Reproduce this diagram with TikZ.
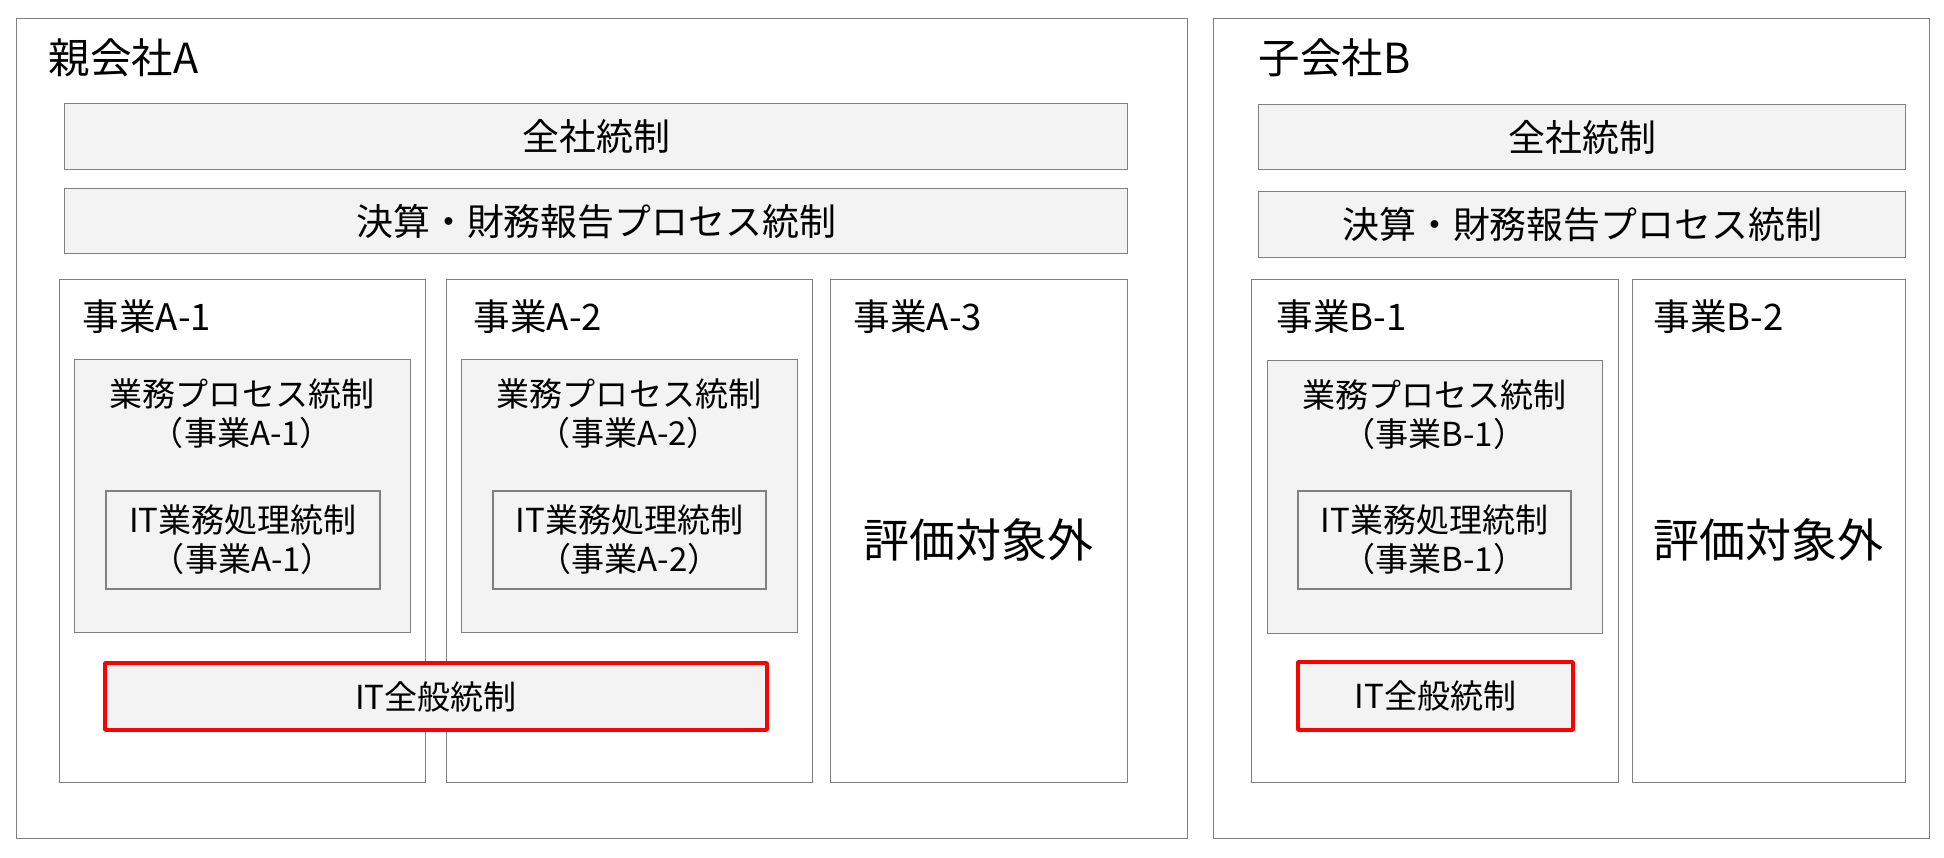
\documentclass[tikz,border=0pt]{standalone}
\usepackage{fontspec}
\setmainfont{Noto Sans CJK JP}
\usepackage{tikz}
\definecolor{linegray}{RGB}{128,128,128}
\definecolor{boxgray}{RGB}{243,243,243}
\definecolor{itred}{RGB}{255,0,0}
\usetikzlibrary{positioning}
\tikzstyle{company} = [rectangle, anchor=north west, draw=linegray, line width=0.4pt, inner sep=0pt]
\tikzstyle{control} = [rectangle, anchor=north west, draw=linegray, fill=boxgray, line width=0.4pt, inner sep=0pt, font=\fontsize{10.5pt}{12pt}\selectfont]
\tikzstyle{business} = [rectangle, anchor=north west, draw=linegray, line width=0.4pt, inner sep=0pt, minimum height=5.03cm]
\tikzstyle{process} = [rectangle, anchor=north west, draw=linegray, fill=boxgray, line width=0.4pt, inner sep=0pt, minimum height=2.73cm]
\tikzstyle{itapp} = [rectangle, draw=linegray, fill=boxgray, line width=0.4pt, inner sep=0pt, align=center, minimum height=0.98cm, font=\fontsize{9.4pt}{11.1pt}\selectfont]
\tikzstyle{itgc} = [rectangle, draw=itred, fill=boxgray, line width=1pt, line join=round, inner sep=0pt, font=\fontsize{9.4pt}{11.1pt}\selectfont]
\tikzstyle{title} = [anchor=west, inner sep=0pt, font=\fontsize{11.8pt}{14pt}\selectfont]
\tikzstyle{unit} = [anchor=west, inner sep=0pt, font=\fontsize{10.4pt}{12pt}\selectfont]
\tikzstyle{proctext} = [align=center, inner sep=0pt, font=\fontsize{9.4pt}{11.1pt}\selectfont]
\tikzstyle{outside} = [inner sep=0pt, font=\fontsize{13.1pt}{15pt}\selectfont]

\begin{document}
\begin{tikzpicture}[x=1cm, y=-1cm]
        \useasboundingbox (0,0) rectangle (19.44,8.58);

        % 親会社A
        \node (compA) [company, minimum width=11.71cm, minimum height=8.20cm] at (0.16,0.18) {};
        \node (compAname) [title] at (0.48,0.58) {親会社A};
        \node (entA) [control, minimum width=10.63cm, minimum height=0.66cm] at (0.64,1.03) {全社統制};
        \node (fcrpA) [control, minimum width=10.63cm, minimum height=0.65cm] at (0.64,1.88) {決算・財務報告プロセス統制};

        \node (bizA1) [business, minimum width=3.66cm] at (0.59,2.79) {};
        \node (bizA2) [business, minimum width=3.66cm] at (4.46,2.79) {};
        \node (bizA3) [business, minimum width=2.97cm] at (8.30,2.79) {};
        \node (bizA1name) [unit] at (0.82,3.17) {事業A-1};
        \node (bizA2name) [unit] at (4.73,3.17) {事業A-2};
        \node (bizA3name) [unit] at (8.53,3.17) {事業A-3};

        \node (procA1) [process, minimum width=3.36cm] at (0.74,3.59) {};
        \node (procA2) [process, minimum width=3.36cm] at (4.61,3.59) {};
        \node (procA1text) [proctext] at (2.42,4.135) {業務プロセス統制\\（事業A-1）};
        \node (procA2text) [proctext] at (6.29,4.135) {業務プロセス統制\\（事業A-2）};
        \node (itacA1) [itapp, minimum width=2.74cm] at (2.43,5.40) {IT業務処理統制\\（事業A-1）};
        \node (itacA2) [itapp, minimum width=2.73cm] at (6.295,5.40) {IT業務処理統制\\（事業A-2）};
        \node (outA3) [outside] at (9.785,5.40) {評価対象外};

        \node (itgcA) [itgc, minimum width=6.62cm, minimum height=0.67cm] at (4.36,6.965) {IT全般統制};

        % 子会社B
        \node (compB) [company, minimum width=7.16cm, minimum height=8.20cm] at (12.13,0.18) {};
        \node (compBname) [title] at (12.58,0.58) {子会社B};
        \node (entB) [control, minimum width=6.47cm, minimum height=0.65cm] at (12.58,1.04) {全社統制};
        \node (fcrpB) [control, minimum width=6.47cm, minimum height=0.66cm] at (12.58,1.91) {決算・財務報告プロセス統制};

        \node (bizB1) [business, minimum width=3.67cm] at (12.51,2.79) {};
        \node (bizB2) [business, minimum width=2.73cm] at (16.32,2.79) {};
        \node (bizB1name) [unit] at (12.76,3.17) {事業B-1};
        \node (bizB2name) [unit] at (16.53,3.17) {事業B-2};

        \node (procB1) [process, minimum width=3.35cm] at (12.67,3.60) {};
        \node (procB1text) [proctext] at (14.345,4.145) {業務プロセス統制\\（事業B-1）};
        \node (itacB1) [itapp, minimum width=2.73cm] at (14.345,5.40) {IT業務処理統制\\（事業B-1）};
        \node (outB2) [outside] at (17.685,5.40) {評価対象外};

        \node (itgcB) [itgc, minimum width=2.75cm, minimum height=0.68cm] at (14.355,6.96) {IT全般統制};
    \end{tikzpicture}
\end{document}
